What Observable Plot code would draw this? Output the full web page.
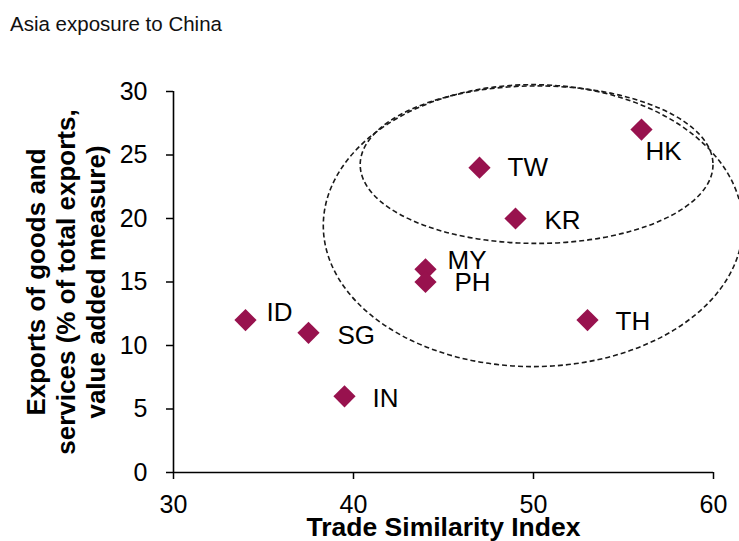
<!DOCTYPE html>
<html><head><meta charset="utf-8">
<script src="https://cdn.jsdelivr.net/npm/d3@7"></script>
<script src="https://cdn.jsdelivr.net/npm/@observablehq/plot@0.6"></script>
<style>
body{margin:0;background:#fff;}
#title{font-family:"Liberation Sans",Arial,sans-serif;font-size:20.5px;line-height:24px;height:50px;box-sizing:border-box;padding:12px 0 0 10px;color:#111;}
</style></head><body>
<div id="title">Asia exposure to China</div>
<div id="chart"></div>
<script>
const countries = ["HK","TW","KR","MY","PH","TH","ID","SG","IN"];
const similarity = [56,47,49,44,44,53,34,37.5,39.5];
const exportsShare = [27,24,20,16,15,12,12,11,6];
const xTicks = [30,40,50,60];
const yTicks = [0,5,10,15,20,25,30];
const xLabel = "Trade Similarity Index";
const yLabel = "Exports of goods and\nservices (% of total exports,\nvalue added measure)";
// annotation ellipses (data units): outer, inner
const ellipseCx = [50, 50.2];
const ellipseCy = [19.4, 24.2];
const ellipseRx = [11.65, 9.8];
const ellipseRy = [11.1, 6.2];
// label placement (px offsets)
const labelDx = {HK:4,TW:28,KR:29,MY:22,PH:29,TH:28,ID:21,SG:29,IN:28};
const labelDy = {HK:22,TW:0,KR:2,MY:-9,PH:1,TH:2,ID:-7,SG:3,IN:2};

const data = countries.map((c,i)=>({c, x: similarity[i], y: exportsShare[i]}));
const color = "#98124e";

const plot = Plot.plot({
  width: 739, height: 491,
  marginTop: 41, marginBottom: 69, marginLeft: 173, marginRight: 26,
  style: {fontFamily: "'Liberation Sans', Arial, sans-serif", fontSize: "25px", color: "#000", background: "#fff", overflow: "visible"},
  x: {domain: [30,60]},
  y: {domain: [0,30]},
  marks: [
    Plot.axisX({ticks: xTicks, tickSize: 7, tickPadding: 16, label: null, strokeWidth: 1.5}),
    Plot.axisY({ticks: yTicks, tickSize: 7, tickPadding: 19, label: null, strokeWidth: 1.5}),
    Plot.ruleX([30], {strokeWidth: 1.6}),
    Plot.ruleY([0], {strokeWidth: 1.6}),
    Plot.dot(data, {x:"x", y:"y", symbol:"diamond2", r:10, fill:color, stroke:"none"}),
    ...data.map(d => Plot.text([d], {x:"x", y:"y", text:"c", textAnchor:"start", lineAnchor:"middle", dx: labelDx[d.c], dy: labelDy[d.c], fontSize: 26, fill:"#000"})),
    Plot.text([xLabel], {frameAnchor:"bottom", lineAnchor:"top", dy: 45, text: d=>d, fontWeight:"bold", fontSize: 26.5, fill:"#000"}),
    Plot.text([yLabel], {frameAnchor:"left", rotate:-90, textAnchor:"middle", lineAnchor:"middle", lineHeight: 1.15, dx: -108, text: d=>d, fontWeight:"bold", fontSize: 26, fill:"#000"})
  ]
});

const sx = plot.scale("x"), sy = plot.scale("y");
const g = d3.select(plot).append("g")
  .attr("fill","none").attr("stroke","#1a1a1a").attr("stroke-width",1.6).attr("stroke-dasharray","5,3");
ellipseCx.forEach((cx,i)=>{
  const px = sx.apply(cx), py = sy.apply(ellipseCy[i]);
  const rx = sx.apply(cx + ellipseRx[i]) - px;
  const ry = py - sy.apply(ellipseCy[i] + ellipseRy[i]);
  g.append("ellipse").attr("cx",px).attr("cy",py).attr("rx",rx).attr("ry",ry);
});
document.getElementById("chart").appendChild(plot);
</script>
</body></html>
